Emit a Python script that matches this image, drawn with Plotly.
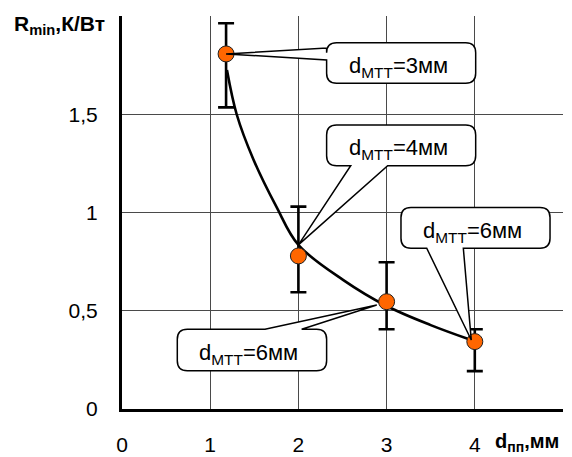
import plotly.graph_objects as go

# measured points: pipe diameter d_пп (mm) vs minimal thermal resistance R_min (K/W)
d_pp = [1.18, 2.0, 3.0, 4.0]
r_min = [1.807, 0.779, 0.546, 0.343]
r_upper = [1.963, 1.03, 0.747, 0.406]
r_lower = [1.535, 0.594, 0.406, 0.193]

# smoothed trend curve
curve_x = [1.19, 1.30, 1.49, 1.75, 2.0, 2.51, 3.0, 3.5, 3.96]
curve_y = [1.725, 1.50, 1.27, 1.03, 0.835, 0.656, 0.524, 0.427, 0.351]

# axis ticks
x_ticks = [0, 1, 2, 3, 4, 5]
x_ticktext = ["0", "1", "2", "3", "4", ""]
y_ticks = [0, 0.5, 1, 1.5, 2]
y_ticktext = ["0", "0,5", "1", "1,5", ""]

# callout labels (d of the heat-transfer tube)
callout_text = ["d<sub>МТТ</sub>=3мм", "d<sub>МТТ</sub>=4мм",
                "d<sub>МТТ</sub>=6мм", "d<sub>МТТ</sub>=6мм"]

W, H = 572, 457
ML, MR, MT, MB = 122, 9, 16, 48
X_RANGE = [0, 5]
Y_RANGE = [0, 2]
px_x = (W - ML - MR) / (X_RANGE[1] - X_RANGE[0])
px_y = (H - MT - MB) / (Y_RANGE[1] - Y_RANGE[0])

FONT = "Liberation Sans, Arial, sans-serif"

fig = go.Figure()

fig.add_trace(go.Scatter(
    x=curve_x, y=curve_y, mode="lines",
    line=dict(color="black", width=2.6, shape="spline", smoothing=1.0),
    hoverinfo="skip", showlegend=False,
))

fig.add_trace(go.Scatter(
    x=d_pp, y=r_min, mode="markers",
    marker=dict(size=16, color="#FF6600", line=dict(color="#202020", width=1)),
    error_y=dict(
        type="data", symmetric=False,
        array=[u - v for u, v in zip(r_upper, r_min)],
        arrayminus=[v - l for v, l in zip(r_min, r_lower)],
        color="black", thickness=2.6, width=8,
    ),
    showlegend=False,
))


def callout_path(x0, x1, y0, y1, side, wa, wb, tip, r=10):
    """Rounded box (data coords) with a wedge pointing to tip."""
    rx, ry = r / px_x, r / px_y
    tx, ty = tip
    p = [f"M {x0 + rx},{y1}"]
    if side == "top":
        p += [f"L {wa},{y1}", f"L {tx},{ty}", f"L {wb},{y1}"]
    p += [f"L {x1 - rx},{y1}", f"Q {x1},{y1} {x1},{y1 - ry}",
          f"L {x1},{y0 + ry}", f"Q {x1},{y0} {x1 - rx},{y0}"]
    if side == "bottom":
        p += [f"L {wb},{y0}", f"L {tx},{ty}", f"L {wa},{y0}"]
    p += [f"L {x0 + rx},{y0}", f"Q {x0},{y0} {x0},{y0 + ry}"]
    if side == "left":
        p += [f"L {x0},{wa}", f"L {tx},{ty}", f"L {x0},{wb}"]
    p += [f"L {x0},{y1 - ry}", f"Q {x0},{y1} {x0 + rx},{y1}", "Z"]
    return " ".join(p)


callouts = [
    # box x0, x1, y0, y1, wedge side, wedge span, wedge tip
    (2.32, 4.01, 1.658, 1.864, "left", 1.776, 1.837, (d_pp[0], r_min[0])),
    (2.32, 4.01, 1.238, 1.445, "bottom", 2.593, 3.012, (curve_x[4], curve_y[4])),
    (3.163, 4.853, 0.818, 1.026, "bottom", 3.455, 3.87, (curve_x[-1], curve_y[-1])),
    (0.627, 2.32, 0.195, 0.406, "top", 1.621, 2.037, (2.888, 0.529)),
]

for (x0, x1, y0, y1, side, wa, wb, tip), txt in zip(callouts, callout_text):
    fig.add_shape(type="path", xref="x", yref="y", layer="above",
                  path=callout_path(x0, x1, y0, y1, side, wa, wb, tip),
                  fillcolor="white", line=dict(color="black", width=1.5))
    fig.add_annotation(x=(x0 + x1) / 2, y=(y0 + y1) / 2, xref="x", yref="y",
                       text=txt, showarrow=False, yshift=-4, xshift=-3,
                       font=dict(family=FONT, size=22, color="black"))

# axis titles
fig.add_annotation(xref="paper", yref="paper", x=(12 - ML) / (W - ML - MR),
                   y=1 - (25 - MT) / (H - MT - MB),
                   xanchor="left", yanchor="middle", showarrow=False,
                   text="<b>R<sub>min</sub>,К/Вт</b>",
                   font=dict(family=FONT, size=21, color="black"))
fig.add_annotation(xref="paper", yref="paper", x=(493 - ML) / (W - ML - MR),
                   y=(H - MB - 442) / (H - MT - MB),
                   xanchor="left", yanchor="middle", showarrow=False,
                   text="<b>d<sub>пп</sub>,мм</b>",
                   font=dict(family=FONT, size=20, color="black"))

fig.update_xaxes(range=X_RANGE, tickvals=x_ticks, ticktext=x_ticktext,
                 showgrid=True, gridcolor="#4a4a4a", gridwidth=1,
                 showline=True, linecolor="black", linewidth=3,
                 zeroline=False, ticks="", ticklabelstandoff=15,
                 automargin=False,
                 tickfont=dict(family=FONT, size=21, color="black"))
fig.update_yaxes(range=Y_RANGE, tickvals=y_ticks, ticktext=y_ticktext,
                 showgrid=True, gridcolor="#4a4a4a", gridwidth=1,
                 showline=True, linecolor="black", linewidth=3,
                 zeroline=False, ticks="", ticklabelstandoff=17,
                 automargin=False,
                 tickfont=dict(family=FONT, size=21, color="black"))

fig.update_layout(width=W, height=H,
                  margin=dict(l=ML, r=MR, t=MT, b=MB, pad=0, autoexpand=False),
                  plot_bgcolor="white", paper_bgcolor="white",
                  showlegend=False)

fig.write_html("out.html")
